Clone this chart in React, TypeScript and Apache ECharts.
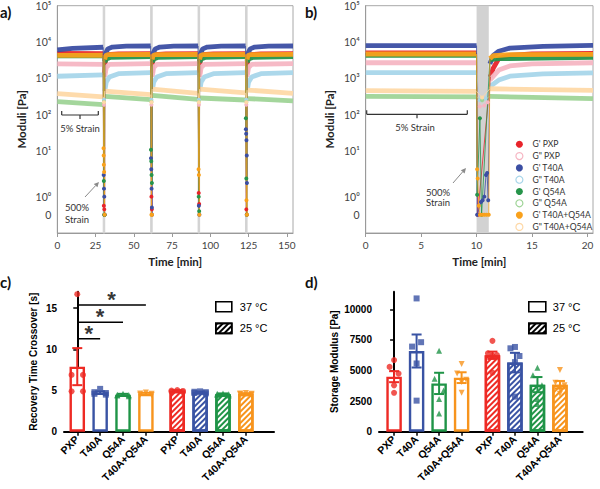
import React, { useEffect, useRef } from 'react';
import * as echarts from 'echarts';

// ---------------- Panels a / b : rheology (moduli vs time) ----------------
const curveNames = ["G' PXP", 'G" PXP', "G' T40A", 'G" T40A', "G' Q54A", 'G" Q54A', "G' T40A+Q54A", 'G" T40A+Q54A'];
const curveColors = ['#e8232a', '#f6b6c3', '#3b4ea3', '#a8d6ea', '#26944a', '#9fd497', '#f9a11b', '#fed9a8'];

const logTickPa = [0, 1, 10, 100, 1000, 10000, 100000];
const logTickLabels = ['0', '10⁰', '10¹', '10²', '10³', '10⁴', '10⁵'];
const aTimeTicks = [0, 25, 50, 75, 100, 125, 150];
const bTimeTicks = [0, 5, 10, 15, 20];
const aStrainWindows = [[30, 31], [61, 62], [92, 93], [123, 124]];
const bStrainWindows = [[10, 11.1]];

// panel a, 5% strain segments [min, Pa]
const aPXPgs = [
  [[0, 4900], [30, 4800]],
  [[31, 1400], [31.5, 3500], [32.5, 4500], [40, 4700], [61, 4800]],
  [[62, 1400], [62.5, 3500], [63.5, 4500], [71, 4700], [92, 4800]],
  [[93, 1300], [93.5, 3400], [94.5, 4500], [102, 4700], [123, 4800]],
  [[124, 1300], [124.5, 3400], [125.5, 4500], [133, 4700], [154, 4800]],
];
const aPXPgl = [
  [[0, 2500], [30, 2450]],
  [[31, 1100], [32, 2000], [34, 2450], [61, 2550]],
  [[62, 1100], [63, 2000], [65, 2450], [92, 2550]],
  [[93, 1100], [94, 2000], [96, 2450], [123, 2550]],
  [[124, 1100], [125, 2000], [127, 2450], [154, 2550]],
];
const aT40Ags = [
  [[0, 6100], [10, 6700], [30, 7200]],
  [[31, 3000], [31.5, 4800], [33, 6500], [36, 7300], [45, 7700], [61, 7800]],
  [[62, 3000], [62.5, 4800], [64, 6500], [67, 7300], [76, 7700], [92, 7800]],
  [[93, 3000], [93.5, 4800], [95, 6500], [98, 7300], [107, 7700], [123, 7800]],
  [[124, 3000], [124.5, 4800], [126, 6500], [129, 7300], [138, 7700], [154, 7800]],
];
const aT40Agl = [
  [[0, 1150], [30, 1250]],
  [[31, 450], [32, 800], [34, 1100], [40, 1350], [61, 1450]],
  [[62, 450], [63, 800], [65, 1100], [71, 1350], [92, 1450]],
  [[93, 450], [94, 800], [96, 1100], [102, 1350], [123, 1450]],
  [[124, 450], [125, 800], [127, 1100], [133, 1350], [154, 1450]],
];
const aQ54Ags = [
  [[0, 4200], [30, 4200]],
  [[31, 2800], [32, 3400], [35, 3800], [61, 4000]],
  [[62, 2800], [63, 3400], [66, 3800], [92, 4000]],
  [[93, 2800], [94, 3400], [97, 3800], [123, 4000]],
  [[124, 2800], [125, 3400], [128, 3800], [154, 4000]],
];
const aQ54Agl = [
  [[0, 230], [30, 190]],
  [[31, 320], [61, 260]],
  [[62, 340], [92, 265]],
  [[93, 290], [123, 255]],
  [[124, 280], [154, 240]],
];
const aTQgs = [
  [[0, 4300], [30, 4350]],
  [[31, 3300], [31.5, 4200], [33, 4500], [61, 4600]],
  [[62, 3300], [62.5, 4200], [64, 4500], [92, 4600]],
  [[93, 3300], [93.5, 4200], [95, 4500], [123, 4600]],
  [[124, 3300], [124.5, 4200], [126, 4500], [154, 4600]],
];
const aTQgl = [
  [[0, 380], [30, 310]],
  [[31, 450], [61, 360]],
  [[62, 510], [92, 390]],
  [[93, 510], [123, 400]],
  [[124, 480], [154, 390]],
];
// panel a, points measured during the 500% strain windows
const aPXPgsBreaks = [[[30.4, 0.5], [30.7, 0.3], [30.9, 0]], [[61.5, 1], [61.8, 0.3]], [[92.4, 1.2], [92.7, 0.6]], [[123.5, 0.3], [123.8, 0]]];
const aPXPglBreaks = [[[30.5, 190]], [[61.5, 190]], [[92.5, 190]], [[123.5, 190]]];
const aT40AgsBreaks = [[[30.3, 3], [30.5, 1.5], [30.7, 1], [30.9, 0]], [[61.2, 7], [61.4, 4], [61.6, 1.5], [61.8, 0.4], [61.9, 0]], [[92.5, 0.5], [92.8, 0]], [[123.2, 40], [123.4, 30], [123.6, 20], [123.8, 8], [123.9, 2]]];
const aT40AglBreaks = [[[30.5, 260]], [[61.5, 260]], [[92.5, 260]], [[123.5, 260]]];
const aQ54AgsBreaks = [[[30.4, 2.2], [30.7, 0], [30.9, 0]], [[61.2, 11], [61.4, 6], [61.6, 3], [61.8, 2]], [[92.4, 1], [92.7, 0.2]], [[123.2, 80], [123.5, 2.5], [123.8, 0]]];
const aQ54AglBreaks = [[[30.5, 230]], [[61.5, 230]], [[92.5, 230]], [[123.5, 230]]];
const aTQgsBreaks = [[[30.2, 12], [30.3, 8], [30.4, 5], [30.6, 3.5], [30.9, 0]], [[61.5, 0], [61.9, 0]], [[92.3, 4], [92.5, 3], [92.8, 0]], [[123.6, 0.8], [123.9, 0]]];
const aTQglBreaks = [[[30.5, 220]], [[61.5, 220]], [[92.5, 220]], [[123.5, 220]]];

// panel b
const bPXPgs = [[[0, 5000], [10, 5000]], [[11.25, 1100], [11.5, 1900], [12, 3500], [13, 4300], [15, 4700], [20.5, 4900]]];
const bPXPgl = [[[0, 2700], [10, 2700]], [[11.2, 900], [12, 1700], [13, 2200], [15, 2500], [20.5, 2700]]];
const bT40Ags = [[[0, 8000], [10, 8000]], [[11.2, 2500], [11.5, 4300], [12, 5600], [13, 6800], [16, 7600], [20.5, 8100]]];
const bT40Agl = [[[0, 1450], [10, 1450]], [[11.2, 600], [12, 900], [13, 1150], [16, 1340], [20.5, 1430]]];
const bQ54Ags = [[[0, 4300], [10, 4300]], [[11.2, 3300], [12, 3500], [20.5, 3800]]];
const bQ54Agl = [[[0, 320], [10, 310]], [[11.2, 320], [20.5, 280]]];
const bTQgs = [[[0, 4700], [10, 4700]], [[11.2, 3500], [11.5, 4200], [13, 4500], [20.5, 4600]]];
const bTQgl = [[[0, 460], [10, 440]], [[11.2, 520], [20.5, 470]]];
const bPXPgsBreaks = [[[10.1, 0]]];
const bPXPglBreaks = [[[10.3, 170], [10.7, 180], [11, 220]]];
const bT40AgsBreaks = [[[10.05, 0], [10.4, 0.7], [10.55, 0.8], [10.7, 1], [10.85, 3], [10.95, 3.3], [11.05, 0.8]]];
const bT40AglBreaks = [[[10.3, 250], [10.8, 280]]];
const bQ54AgsBreaks = [[[10.05, 1.1], [10.3, 80], [10.45, 0]]];
const bQ54AglBreaks = [[[10.5, 250]]];
const bTQgsBreaks = [[[10.05, 4], [10.1, 2.5], [10.2, 0.5], [10.3, 0], [10.5, 0], [10.7, 0], [10.9, 0], [11.1, 0]]];
const bTQglBreaks = [[[10.5, 300]]];

const aSegs = [aPXPgs, aPXPgl, aT40Ags, aT40Agl, aQ54Ags, aQ54Agl, aTQgs, aTQgl];
const aBreaks = [aPXPgsBreaks, aPXPglBreaks, aT40AgsBreaks, aT40AglBreaks, aQ54AgsBreaks, aQ54AglBreaks, aTQgsBreaks, aTQglBreaks];
const bSegs = [bPXPgs, bPXPgl, bT40Ags, bT40Agl, bQ54Ags, bQ54Agl, bTQgs, bTQgl];
const bBreaks = [bPXPgsBreaks, bPXPglBreaks, bT40AgsBreaks, bT40AglBreaks, bQ54AgsBreaks, bQ54AglBreaks, bTQgsBreaks, bTQglBreaks];

// ---------------- Panels c / d : bar charts ----------------
const groupNames = ['PXP', 'T40A', 'Q54A', 'T40A+Q54A'];
const groupColors = ['#ee2a24', '#3953a4', '#1f9447', '#f7941d'];
const tempNames = ['37 °C', '25 °C'];

const c37Mean = [7.9, 4.75, 4.5, 4.6];
const c37Sem = [2.25, 0.15, 0.1, 0.12];
const c37Points = [[16.7, 6.9, 6.9, 4.9, 4.9], [5.2, 4.8, 4.7, 4.6, 4.5], [4.6, 4.5, 4.45, 4.4, 4.3], [4.75, 4.65, 4.6, 4.5, 4.45]];
const c25Mean = [4.95, 4.8, 4.55, 4.6];
const c25Sem = [0.1, 0.08, 0.1, 0.08];
const c25Points = [[5.05, 5.0, 4.95, 4.85, 4.8], [4.9, 4.85, 4.8, 4.7, 4.65], [4.65, 4.6, 4.55, 4.45, 4.4], [4.7, 4.65, 4.6, 4.55, 4.5]];
const sigPairs = [[0, 1], [0, 2], [0, 3]];
const sigHeights = [11.3, 13.3, 15.4];

const d37Mean = [4500, 6600, 3950, 4420];
const d37Sem = [450, 1350, 870, 440];
const d37Points = [[5860, 5300, 4750, 3790, 3180], [10900, 6960, 7320, 5580, 2540], [6630, 4340, 3370, 2680, 1490], [5530, 4750, 4250, 4060, 3180]];
const d25Mean = [6250, 5650, 3850, 3850];
const d25Sem = [300, 800, 620, 300];
const d25Points = [[7430, 6410, 6270, 6220, 4830], [6930, 6820, 6190, 5690, 2870], [5220, 4610, 3790, 2680, 2270], [5050, 4000, 3800, 3500, 3100]];

const cTicks = [0, 5, 10, 15];
const dTicks = [0, 2500, 5000, 7500, 10000];

// ---------------- helpers ----------------
const slots37 = [0, 1, 2, 3];
const slots25 = [4.37, 5.37, 6.37, 7.37];
const allSlots = [...slots37, ...slots25];
const slotLabels = [...groupNames, ...groupNames];
const pointSymbols = ['circle', 'rect', 'triangle', 'path://M0,0L10,0L5,9Z'];
const cJitter = [0, -0.25, 0.25, -0.25, 0.25];
const dJitter = [0, -0.2, 0.2, 0, 0];

const tr = (v: number) =>
  v <= 0 ? 2 : v < 1 ? 2 + 2 * v : v < 10 ? 4 + 5 * Math.log10(v) : 9 + 4 * (Math.log10(v) - 1);

function bandData(segs: number[][][]) {
  const out: any[] = [];
  segs.forEach((s, i) => {
    if (i > 0) out.push([s[0][0], '-']);
    s.forEach((p) => out.push([p[0], tr(p[1])]));
  });
  return out;
}
function breakData(segs: number[][][], breaks: number[][][]) {
  const out: any[] = [];
  breaks.forEach((b, i) => {
    const a = segs[i][segs[i].length - 1];
    const c = segs[i + 1][0];
    if (i > 0) out.push({ value: [a[0], '-'] });
    out.push({ value: [a[0], tr(a[1])], symbol: 'none' });
    b.forEach((p) => out.push({ value: [p[0], tr(p[1])], symbol: 'circle' }));
    out.push({ value: [c[0], tr(c[1])], symbol: 'none' });
  });
  return out;
}

const AB_FONT = 'Lato, "Open Sans", sans-serif';
const CD_FONT = '"Liberation Sans", Arial, sans-serif';

function rheoSeries(idx: number, segs: any[], breaks: any[], windows: number[][]) {
  const s: any[] = [];
  s.push({
    type: 'line', xAxisIndex: idx, yAxisIndex: idx, data: [], silent: true, z: 1,
    markArea: { silent: true, itemStyle: { color: '#d2d2d2', borderColor: '#d2d2d2', borderWidth: idx === 0 ? 1 : 0 },
      data: windows.map((w) => [{ xAxis: w[0] }, { xAxis: w[1] }]) },
  });
  segs.forEach((sg, k) => {
    s.push({
      type: 'line', name: curveNames[k], xAxisIndex: idx, yAxisIndex: idx, data: bandData(sg),
      showSymbol: false, symbol: 'none', z: 2, connectNulls: false,
      lineStyle: { width: 4.8, color: curveColors[k], opacity: 0.95 }, itemStyle: { color: curveColors[k] },
    });
  });
  segs.forEach((sg, k) => {
    s.push({
      type: 'line', name: curveNames[k], xAxisIndex: idx, yAxisIndex: idx, data: breakData(sg, breaks[k]),
      showSymbol: true, showAllSymbol: true, symbol: 'none', symbolSize: 4, z: 3, connectNulls: false,
      lineStyle: { width: 0.8, color: curveColors[k] }, itemStyle: { color: curveColors[k] },
    });
  });
  return s;
}

function rheoAxes(idx: number, max: number, ticks: number[]) {
  const x = {
    type: 'value', gridIndex: idx, min: 0, max,
    axisLine: { lineStyle: { color: '#9a9a9a' } },
    axisTick: { show: true, customValues: ticks, length: 4, lineStyle: { color: '#9a9a9a' } },
    axisLabel: { customValues: ticks, color: '#444', fontSize: 10, fontFamily: AB_FONT, margin: 7 },
    splitLine: { show: false },
    name: 'Time [min]', nameLocation: 'middle', nameGap: 22,
    nameTextStyle: { fontWeight: 'bold', fontSize: 11.5, color: '#222', fontFamily: AB_FONT },
  };
  const tickPos = logTickPa.map(tr);
  const y = {
    type: 'value', gridIndex: idx, min: 0, max: 25,
    axisLine: { lineStyle: { color: '#9a9a9a' } },
    axisTick: { show: false },
    axisLabel: {
      customValues: tickPos, color: '#444', fontSize: 10.5, fontFamily: AB_FONT, margin: 6,
      formatter: (v: number) => { const i = tickPos.findIndex((t) => Math.abs(t - v) < 1e-6); return i >= 0 ? logTickLabels[i] : ''; },
    },
    splitLine: { show: false },
    name: 'Moduli [Pa]', nameLocation: 'middle', nameGap: 30,
    nameTextStyle: { fontWeight: 'bold', fontSize: 11.5, color: '#222', fontFamily: AB_FONT },
  };
  return { x, y };
}

const decalBase = { symbol: 'rect', symbolSize: 1, dashArrayX: [1, 0], dashArrayY: [1.6, 1.4], rotation: -Math.PI / 4 };

function barAxes(idx: number, min: number, max: number, yMax: number, yTicks: number[], yName: string, nameGap: number) {
  const x = {
    type: 'value', gridIndex: idx, min, max,
    axisLine: { lineStyle: { color: '#000', width: 2 } },
    axisTick: { show: true, customValues: allSlots, length: 4, lineStyle: { color: '#000', width: 1.5 } },
    axisLabel: {
      customValues: allSlots, rotate: 45, margin: 6, color: '#000', fontWeight: 'bold', fontSize: 10.5, fontFamily: CD_FONT,
      formatter: (v: number) => { const i = allSlots.findIndex((t) => Math.abs(t - v) < 1e-6); return i >= 0 ? slotLabels[i] : ''; },
    },
    splitLine: { show: false },
  };
  const y = {
    type: 'value', gridIndex: idx, min: 0, max: yMax,
    axisLine: { show: true, lineStyle: { color: '#000', width: 2 } },
    axisTick: { show: true, customValues: yTicks, length: 4, lineStyle: { color: '#000', width: 1.5 } },
    axisLabel: { customValues: yTicks, color: '#000', fontWeight: 'bold', fontSize: 10, fontFamily: CD_FONT, margin: 7,
      formatter: (v: number) => String(v) },
    splitLine: { show: false },
    name: yName, nameLocation: 'middle', nameGap,
    nameTextStyle: { fontWeight: 'bold', fontSize: 10, color: '#000', fontFamily: CD_FONT },
  };
  return { x, y };
}

function barSeries(idx: number, m37: number[], s37: number[], p37: number[][], m25: number[], s25: number[], p25: number[][], jitter: number[]) {
  const out: any[] = [];
  out.push({
    type: 'bar', name: tempNames[0], xAxisIndex: idx, yAxisIndex: idx, barWidth: 15.5, barGap: '-100%', z: 2,
    itemStyle: { color: '#fff', borderColor: '#000', borderWidth: 2.4 },
    data: slots37.map((x, i) => ({ value: [x, m37[i]], itemStyle: { color: '#fff', borderColor: groupColors[i] } })),
  });
  out.push({
    type: 'bar', name: tempNames[1], xAxisIndex: idx, yAxisIndex: idx, barWidth: 15.5, barGap: '-100%', z: 2,
    itemStyle: { color: '#fff', borderColor: '#000', borderWidth: 2.4, decal: { ...decalBase, color: '#000' } },
    data: slots25.map((x, i) => ({ value: [x, m25[i]], itemStyle: { color: '#fff', borderColor: groupColors[i], decal: { ...decalBase, color: groupColors[i] } } })),
  });
  const errData: any[] = [];
  slots37.forEach((x, i) => errData.push({ value: [x, m37[i] - s37[i], m37[i] + s37[i]], itemStyle: { color: groupColors[i] } }));
  slots25.forEach((x, i) => errData.push({ value: [x, m25[i] - s25[i], m25[i] + s25[i]], itemStyle: { color: groupColors[i] } }));
  out.push({
    type: 'custom', xAxisIndex: idx, yAxisIndex: idx, z: 3, encode: { x: 0, y: [1, 2] }, data: errData,
    renderItem: (params: any, api: any) => {
      const x = api.value(0);
      const lo = api.coord([x, api.value(1)]);
      const hi = api.coord([x, api.value(2)]);
      const c = api.visual('color');
      const hw = 5;
      const st = { stroke: c, lineWidth: 2 };
      return {
        type: 'group',
        children: [
          { type: 'line', shape: { x1: lo[0], y1: lo[1], x2: hi[0], y2: hi[1] }, style: st },
          { type: 'line', shape: { x1: lo[0] - hw, y1: lo[1], x2: lo[0] + hw, y2: lo[1] }, style: st },
          { type: 'line', shape: { x1: hi[0] - hw, y1: hi[1], x2: hi[0] + hw, y2: hi[1] }, style: st },
        ],
      };
    },
  });
  const pts: any[] = [];
  const addPts = (slots: number[], P: number[][]) => P.forEach((arr, i) => arr.forEach((v, j) => pts.push({
    value: [slots[i] + jitter[j % jitter.length], v], symbol: pointSymbols[i], itemStyle: { color: groupColors[i] },
  })));
  addPts(slots37, p37);
  addPts(slots25, p25);
  out.push({ type: 'scatter', xAxisIndex: idx, yAxisIndex: idx, z: 4, symbolSize: 6, data: pts });
  return out;
}

function arrow(x1: number, y1: number, x2: number, y2: number) {
  const ang = Math.atan2(y2 - y1, x2 - x1);
  const L = 5, W = 2.5;
  const bx = x2 - L * Math.cos(ang), by = y2 - L * Math.sin(ang);
  const px = -Math.sin(ang) * W, py = Math.cos(ang) * W;
  return [
    { type: 'line', shape: { x1, y1, x2: bx, y2: by }, style: { stroke: '#8a8a8a', lineWidth: 1 } },
    { type: 'polygon', shape: { points: [[x2, y2], [bx + px, by + py], [bx - px, by - py]] }, style: { fill: '#8a8a8a' } },
  ];
}

function bracket(x1: number, x2: number, y: number) {
  const st = { stroke: '#333', lineWidth: 1.2 };
  const xm = (x1 + x2) / 2;
  return [
    { type: 'line', shape: { x1, y1: y, x2, y2: y }, style: st },
    { type: 'line', shape: { x1, y1: y - 4, x2: x1, y2: y }, style: st },
    { type: 'line', shape: { x1: x2, y1: y - 4, x2, y2: y }, style: st },
    { type: 'line', shape: { x1: xm, y1: y, x2: xm, y2: y + 4 }, style: st },
  ];
}

function buildOption(): any {
  const aAx = rheoAxes(0, 154, aTimeTicks);
  const bAx = rheoAxes(1, 20.5, bTimeTicks);
  const cAx = barAxes(2, -0.58, 8.6, 17, cTicks, 'Recovery Time Crossover [s]', 26);
  const dAx = barAxes(3, -0.67, 8.38, 11450, dTicks, 'Storage Modulus [Pa]', 40);

  const series: any[] = [
    ...rheoSeries(0, aSegs, aBreaks, aStrainWindows),
    ...rheoSeries(1, bSegs, bBreaks, bStrainWindows),
    ...barSeries(2, c37Mean, c37Sem, c37Points, c25Mean, c25Sem, c25Points, cJitter),
    ...barSeries(3, d37Mean, d37Sem, d37Points, d25Mean, d25Sem, d25Points, dJitter),
  ];
  const sigLine: any[] = [];
  sigPairs.forEach((p, i) => {
    if (i > 0) sigLine.push([slots37[p[0]], '-']);
    sigLine.push([slots37[p[0]], sigHeights[i]]);
    sigLine.push([slots37[p[1]], sigHeights[i]]);
  });
  series.push({
    type: 'line', xAxisIndex: 2, yAxisIndex: 2, data: sigLine, symbol: 'none', z: 5,
    lineStyle: { color: '#000', width: 1.5 }, connectNulls: false,
  });
  series.push({
    type: 'scatter', xAxisIndex: 2, yAxisIndex: 2, symbolSize: 1, z: 5, itemStyle: { color: 'rgba(0,0,0,0)' },
    label: { show: true, formatter: '*', position: 'top', distance: -6, fontSize: 22, fontWeight: 'bold', color: '#000', fontFamily: CD_FONT },
    data: sigPairs.map((p, i) => [(slots37[p[0]] + slots37[p[1]]) / 2, sigHeights[i]]),
  });

  const tempLegendData = [
    { name: tempNames[0], icon: 'rect', itemStyle: { color: '#fff', borderColor: '#000', borderWidth: 1.6, decal: 'none' } },
    { name: tempNames[1], icon: 'rect', itemStyle: { color: '#fff', borderColor: '#000', borderWidth: 1.6, decal: { ...decalBase, color: '#000' } } },
  ];

  const graphic: any[] = [
    { type: 'text', x: 0, y: 4, style: { text: 'a)', font: `bold 15px ${AB_FONT}`, fill: '#111' } },
    { type: 'text', x: 305, y: 4, style: { text: 'b)', font: `bold 15px ${AB_FONT}`, fill: '#111' } },
    { type: 'text', x: 0, y: 274, style: { text: 'c)', font: `bold 15px ${AB_FONT}`, fill: '#111' } },
    { type: 'text', x: 305, y: 274, style: { text: 'd)', font: `bold 15px ${AB_FONT}`, fill: '#111' } },
    ...bracket(61.7, 98.3, 115),
    { type: 'text', x: 80, y: 128, style: { text: '5% Strain', font: `9.5px ${AB_FONT}`, fill: '#333', align: 'center', verticalAlign: 'middle' } },
    { type: 'text', x: 77, y: 213, style: { text: '500%\nStrain', font: `9.5px ${AB_FONT}`, lineHeight: 12, fill: '#333', align: 'center', verticalAlign: 'middle' } },
    ...arrow(85, 197, 99, 182),
    ...bracket(366.7, 467.3, 114.3),
    { type: 'text', x: 415, y: 127.7, style: { text: '5% Strain', font: `9.5px ${AB_FONT}`, fill: '#333', align: 'center', verticalAlign: 'middle' } },
    { type: 'text', x: 438, y: 197.5, style: { text: '500%\nStrain', font: `9.5px ${AB_FONT}`, lineHeight: 10, fill: '#333', align: 'center', verticalAlign: 'middle' } },
    ...arrow(453, 183, 466, 168),
  ];

  return {
    animation: false,
    backgroundColor: '#fff',
    grid: [
      { left: 57.3, top: 5.7, width: 235.7, height: 227.3, show: true, borderColor: '#a8a8a8', borderWidth: 1, backgroundColor: 'transparent' },
      { left: 365.7, top: 5.7, width: 227.3, height: 227.3, show: true, borderColor: '#a8a8a8', borderWidth: 1, backgroundColor: 'transparent' },
      { left: 64, top: 291.7, width: 210, height: 140 },
      { left: 379, top: 291.7, width: 203.7, height: 140 },
    ],
    xAxis: [aAx.x, bAx.x, cAx.x, dAx.x],
    yAxis: [aAx.y, bAx.y, cAx.y, dAx.y],
    legend: [
      {
        data: curveNames.map((n, k) => ({
          name: n, icon: 'circle',
          itemStyle: k % 2 === 0 ? { color: curveColors[k], borderWidth: 0 } : { color: '#fff', borderColor: curveColors[k], borderWidth: 1.2 },
        })),
        orient: 'vertical', left: 510.3, top: 133.4, itemWidth: 8, itemHeight: 7, itemGap: 0, selectedMode: false,
        textStyle: { fontSize: 8.6, lineHeight: 11.8, color: '#333', fontFamily: AB_FONT, padding: [0, 0, 0, 4] },
      },
      {
        data: tempLegendData, orient: 'vertical', left: 210, top: 296, itemWidth: 16, itemHeight: 10, itemGap: 10, selectedMode: false,
        textStyle: { fontSize: 11, color: '#000', fontFamily: CD_FONT, padding: [0, 0, 0, 3] },
      },
      {
        data: tempLegendData, orient: 'vertical', left: 523, top: 296, itemWidth: 17, itemHeight: 10, itemGap: 10, selectedMode: false,
        textStyle: { fontSize: 11, color: '#000', fontFamily: CD_FONT, padding: [0, 0, 0, 2] },
      },
    ],
    graphic,
    series,
  };
}

export default function App() {
  const ref = useRef<HTMLDivElement>(null);
  useEffect(() => {
    if (!ref.current) return;
    const chart = echarts.init(ref.current, null, { renderer: 'svg' });
    chart.setOption(buildOption());
    return () => chart.dispose();
  }, []);
  return <div ref={ref} style={{ position: 'absolute', left: 0, top: 0, width: 600, height: 489, background: '#fff' }} />;
}
